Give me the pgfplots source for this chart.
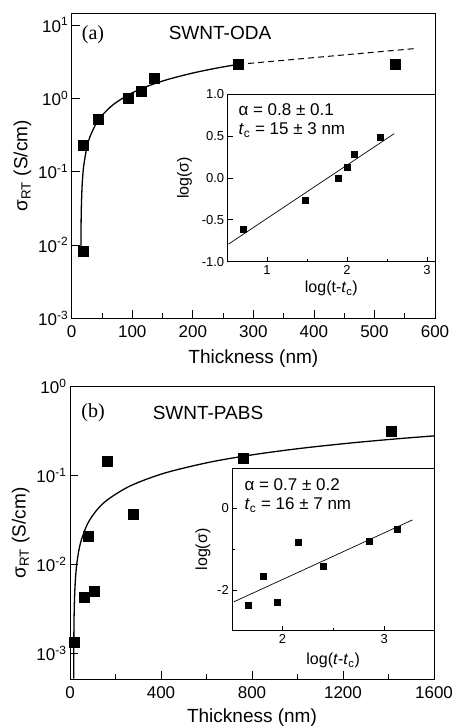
\documentclass[border=0pt]{standalone}
\usepackage{fontspec}
\setmainfont{Liberation Sans}
\newfontfamily\timesf{Liberation Serif}
\usepackage{pgfplots}
\pgfplotsset{compat=1.18}

\pgfplotsset{
  mainax/.style={scale only axis, axis line style={line width=0.9pt},
    tick align=inside, tick pos=left, major tick length=8pt, minor tick length=5pt,
    every tick/.style={line width=0.8pt, black},
    tick label style={font=\fontsize{17}{17}\selectfont},
    label style={font=\fontsize{19}{19}\selectfont},
    xticklabel style={yshift=-4pt},
    xlabel style={yshift=-5pt},
    /pgf/number format/assume math mode=true, /pgf/number format/1000 sep={},
    yminorticks=false},
  insetax/.style={scale only axis, axis line style={line width=0.8pt},
    axis background/.style={fill=white},
    tick align=inside, tick pos=left, major tick length=5pt, minor tick length=3pt,
    every tick/.style={line width=0.7pt, black},
    tick label style={font=\fontsize{13}{13}\selectfont},
    label style={font=\fontsize{16}{16}\selectfont},
    /pgf/number format/assume math mode=true},
}

\begin{document}
\begin{tikzpicture}[x=1pt,y=1pt]
\path[use as bounding box] (0,0) rectangle (453,727);

% ---- panel (a)
\begin{axis}[mainax, at={(71.7pt,408.7pt)}, anchor=south west,
  width=363.3pt, height=305pt,
  ymode=log, xmin=0, xmax=600, ymin=1e-3, ymax=14.45,
  xtick={0,100,...,600}, minor x tick num=1,
  ytick={1e-3,1e-2,1e-1,1,10},
  yticklabels={10\textsuperscript{-3},10\textsuperscript{-2},10\textsuperscript{-1},10\textsuperscript{0},10\textsuperscript{1}},
  xlabel={Thickness (nm)}, ylabel={σ\textsubscript{RT} (S/cm)}]
\addplot[black, line width=1.3pt, smooth] coordinates {
  (15.2,0.0094) (15.5,0.0195) (16,0.034) (17,0.0592) (18,0.0819) (20,0.1232)
  (25,0.2145) (30,0.2967) (40,0.4465) (50,0.5845) (70,0.839) (100,1.189)
  (130,1.513) (160,1.822) (200,2.214) (240,2.59) (275,2.907)};
\addplot[black, line width=1pt, dash pattern=on 6pt off 4pt] coordinates {
  (275,2.907) (350,3.30) (425,3.75) (500,4.26) (570,4.8)};
\addplot[only marks, mark=square*, mark size=5pt, black] coordinates {
  (19,0.0081) (19,0.23) (44,0.52) (92.5,1.0) (115.6,1.27) (136.5,1.87) (275,2.92) (535,2.92)};
\end{axis}

\begin{axis}[insetax, at={(227.7pt,465.3pt)}, anchor=south west,
  width=207.3pt, height=167.4pt,
  xmin=0.51, xmax=3.10, ymin=-1, ymax=1,
  xtick={1,2,3}, minor xtick={1.5,2.5},
  ytick={-1,-0.5,0,0.5,1},
  yticklabel style={/pgf/number format/.cd, fixed, fixed zerofill, precision=1},
  ylabel style={yshift=3pt},
  xlabel={log(t-\textit{t}\textsubscript{c})}, ylabel={log(σ)}]
\addplot[black, line width=0.7pt] coordinates {(0.52,-0.79) (2.59,0.53)};
\addplot[only marks, mark=square*, mark size=3pt, black] coordinates {
  (0.70,-0.614) (1.479,-0.265) (1.895,-0.003) (2.004,0.133) (2.09,0.29) (2.416,0.49)};
\end{axis}

\node[font=\timesf\fontsize{20}{20}\selectfont] at (93,692) {(a)};
\node[font=\fontsize{19}{19}\selectfont] at (220,694) {SWNT-ODA};
\node[anchor=west, font=\fontsize{17}{17}\selectfont] at (235,617) {α = 0.8 ± 0.1};
\node[anchor=west, font=\fontsize{17}{17}\selectfont] at (235,597) {\textit{t}\textsubscript{c} = 15 ± 3 nm};

% ---- panel (b)
\begin{axis}[mainax, at={(70pt,47.7pt)}, anchor=south west,
  width=364pt, height=292.6pt,
  ymode=log, xmin=0, xmax=1600, ymin=5.1e-4, ymax=1,
  xtick={0,400,...,1600}, minor x tick num=1,
  ytick={1e-3,1e-2,1e-1,1},
  yticklabels={10\textsuperscript{-3},10\textsuperscript{-2},10\textsuperscript{-1},10\textsuperscript{0}},
  xlabel style={yshift=2pt},
  xlabel={Thickness (nm)}, ylabel={σ\textsubscript{RT} (S/cm)}]
\addplot[black, line width=1.3pt, smooth] coordinates {
  (16.2,0.00052) (16.5,0.00099) (17,0.00161) (18,0.00262) (20,0.00425) (24,0.0069)
  (31,0.01072) (46,0.0174) (76,0.0283) (116,0.0404) (166,0.0537) (266,0.0768)
  (416,0.1067) (616,0.1418) (816,0.1734) (1016,0.2027) (1216,0.2302) (1416,0.2565) (1600,0.2797)};
\addplot[only marks, mark=square*, mark size=5pt, black] coordinates {
  (17.6,0.00135) (64.5,0.00427) (108.5,0.00496) (82,0.021) (162.6,0.146) (277,0.037) (763,0.156) (1413,0.315)};
\end{axis}

\begin{axis}[insetax, at={(232.3pt,96.3pt)}, anchor=south west,
  width=201.7pt, height=162.4pt,
  xmin=1.508, xmax=3.49, ymin=-3, ymax=0.98,
  xtick={2,3}, minor xtick={2.5},
  ytick={-2,0}, minor ytick={-3,-1},
  xlabel style={yshift=-3pt},
  xlabel={log(\textit{t}-\textit{t}\textsubscript{c})}, ylabel={log(σ)}]
\addplot[black, line width=0.7pt] coordinates {(1.525,-2.29) (3.278,-0.286)};
\addplot[only marks, mark=square*, mark size=3pt, black] coordinates {
  (1.666,-2.37) (1.810,-1.665) (1.951,-2.30) (2.154,-0.83) (2.40,-1.43) (2.855,-0.80) (3.128,-0.507)};
\end{axis}

\node[font=\timesf\fontsize{20}{20}\selectfont] at (93,314) {(b)};
\node[font=\fontsize{19}{19}\selectfont] at (208,314) {SWNT-PABS};
\node[anchor=west, font=\fontsize{17}{17}\selectfont] at (241,242) {α = 0.7 ± 0.2};
\node[anchor=west, font=\fontsize{17}{17}\selectfont] at (241,222) {\textit{t}\textsubscript{c} = 16 ± 7 nm};
\end{tikzpicture}
\end{document}
